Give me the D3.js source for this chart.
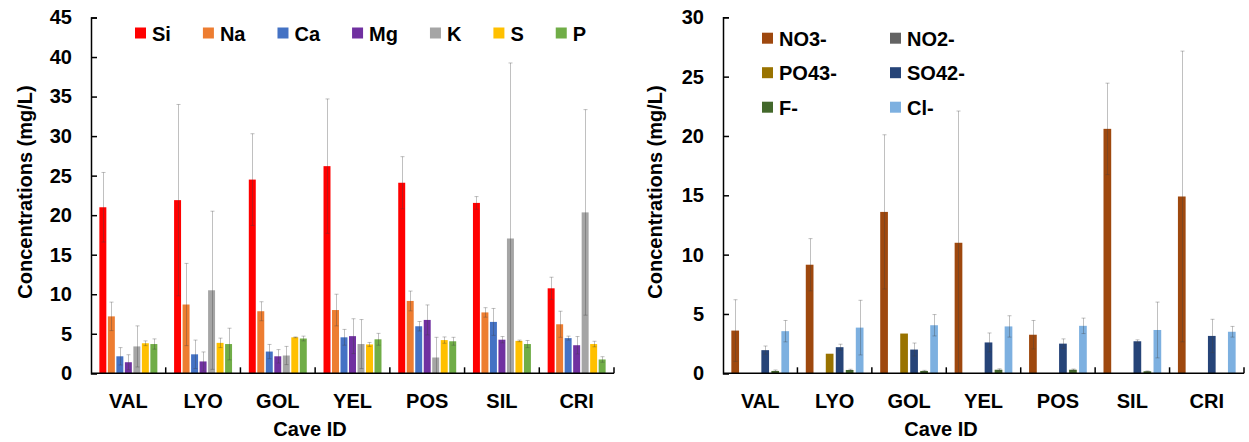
<!DOCTYPE html>
<html>
<head>
<meta charset="utf-8">
<script src="https://cdn.jsdelivr.net/npm/d3@7"></script>
<style>
  html, body { margin: 0; padding: 0; background: #fff; }
  svg { display: block; }
  text { font-family: "Liberation Sans", Arial, sans-serif; font-weight: bold; fill: #000; }
</style>
</head>
<body>
<svg id="chart" width="1249" height="442"></svg>
<script>
// Cave sites shared by both panels
const caves = ["VAL", "LYO", "GOL", "YEL", "POS", "SIL", "CRI"];

// Cations / elements (mg/L): mean and standard deviation per cave
const elementNames = ["Si", "Na", "Ca", "Mg", "K", "S", "P"];
const siMean = [21.0, 21.9, 24.5, 26.2, 24.1, 21.55, 10.75];
const siSD   = [4.4, 12.1, 5.8, 8.5, 3.3, 0.8, 1.4];
const naMean = [7.2, 8.7, 7.85, 8.0, 9.15, 7.7, 6.2];
const naSD   = [1.8, 5.2, 1.2, 2.0, 1.25, 0.6, 1.65];
const caMean = [2.15, 2.4, 2.75, 4.55, 5.95, 6.5, 4.45];
const caSD   = [1.1, 1.8, 0.9, 1.0, 0.6, 1.7, 0.25];
const mgMean = [1.4, 1.5, 2.15, 4.7, 6.75, 4.25, 3.55];
const mgSD   = [0.95, 1.2, 0.85, 2.2, 1.9, 0.4, 1.1];
const kMean  = [3.4, 10.5, 2.25, 3.7, 2.0, 17.05, 20.35];
const kSD    = [2.6, 10.0, 1.15, 3.1, 2.55, 22.2, 13.0];
const sMean  = [3.8, 3.85, 4.55, 3.65, 4.2, 4.1, 3.7];
const sSD    = [0.3, 0.6, 0.05, 0.25, 0.4, 0.1, 0.35];
const pMean  = [3.7, 3.7, 4.4, 4.3, 4.05, 3.7, 1.75];
const pSD    = [0.65, 2.0, 0.3, 0.75, 0.5, 0.45, 0.35];
const elementColors = ["#FF0000", "#ED7D31", "#4472C4", "#7030A0", "#A5A5A5", "#FFC000", "#70AD47"];
const elementTicks = [0, 5, 10, 15, 20, 25, 30, 35, 40, 45];

// Anions (mg/L): mean and standard deviation per cave
const anionNames = ["NO3-", "NO2-", "PO43-", "SO42-", "F-", "Cl-"];
const no3Mean = [3.6, 9.15, 13.6, 11.0, 3.25, 20.6, 14.9];
const no3SD   = [2.6, 2.2, 6.5, 11.1, 1.2, 3.85, 12.25];
const no2Mean = [0, 0, 0, 0, 0, 0, 0];
const no2SD   = [0, 0, 0, 0, 0, 0, 0];
const po4Mean = [0, 1.65, 3.35, 0, 0, 0, 0];
const po4SD   = [0, 0, 0, 0, 0, 0, 0];
const so4Mean = [1.95, 2.2, 2.0, 2.6, 2.5, 2.7, 3.15];
const so4SD   = [0.35, 0.25, 0.55, 0.8, 0.4, 0.12, 1.4];
const fMean   = [0.2, 0.28, 0.2, 0.3, 0.3, 0.17, 0];
const fSD     = [0.08, 0.06, 0.05, 0.08, 0.06, 0.03, 0];
const clMean  = [3.55, 3.85, 4.05, 3.95, 4.0, 3.65, 3.5];
const clSD    = [0.9, 2.3, 0.9, 0.9, 0.65, 2.35, 0.45];
const anionColors = ["#9E480E", "#636363", "#997300", "#264478", "#43682B", "#7DB0E0"];
const anionTicks = [0, 5, 10, 15, 20, 25, 30];

const FONT_SIZE = 20;
const svg = d3.select("#chart");

function drawPanel(cfg) {
  const g = svg.append("g");
  const x0 = d3.scaleBand().domain(caves).range([cfg.left, cfg.right]).paddingInner(0).paddingOuter(0);
  const x1 = d3.scaleBand().domain(cfg.series).range([0, x0.bandwidth()])
    .paddingInner(cfg.barPadInner).paddingOuter(cfg.barPadOuter);
  const y = d3.scaleLinear().domain([0, cfg.yMax]).range([cfg.bottom, cfg.top]);

  // rows of {cave, series, mean, sd}
  const rows = [];
  cfg.series.forEach((s, si) => {
    caves.forEach((c, ci) => {
      rows.push({ cave: c, series: s, idx: si, mean: cfg.means[si][ci], sd: cfg.sds[si][ci] });
    });
  });

  // bars
  g.append("g").selectAll("rect").data(rows.filter(d => d.mean > 0)).join("rect")
    .attr("x", d => x0(d.cave) + x1(d.series))
    .attr("y", d => y(d.mean))
    .attr("width", x1.bandwidth())
    .attr("height", d => y(0) - y(d.mean))
    .attr("fill", d => cfg.colors[d.idx]);

  // error bars (clipped at zero)
  const eb = g.append("g").attr("stroke", "#404040").attr("stroke-opacity", 0.33).attr("stroke-width", 1);
  rows.filter(d => d.mean > 0 && d.sd > 0).forEach(d => {
    const cx = Math.round(x0(d.cave) + x1(d.series) + x1.bandwidth() / 2) + 0.5;
    const lo = y(Math.max(0, d.mean - d.sd));
    const hi = y(d.mean + d.sd);
    eb.append("line").attr("x1", cx).attr("x2", cx).attr("y1", lo).attr("y2", hi);
    eb.append("line").attr("x1", cx - 2).attr("x2", cx + 2).attr("y1", hi).attr("y2", hi);
    if (d.mean - d.sd > 0) {
      eb.append("line").attr("x1", cx - 2).attr("x2", cx + 2).attr("y1", lo).attr("y2", lo);
    }
  });

  // y axis with inward ticks
  const yAxis = d3.axisLeft(y).tickValues(cfg.ticks).tickSize(-6).tickPadding(19).tickFormat(d3.format("d"));
  const ya = g.append("g").attr("transform", `translate(${cfg.left},0)`).call(yAxis);
  ya.select(".domain").attr("stroke", "#000").attr("stroke-width", 1.5);
  ya.selectAll(".tick line").attr("stroke", "#000").attr("stroke-width", 1.5);
  ya.selectAll(".tick text").attr("font-size", FONT_SIZE).attr("font-weight", "bold")
    .attr("font-family", "'Liberation Sans', Arial, sans-serif").attr("fill", "#000");

  // x axis: baseline, group dividers and cave labels
  g.append("line").attr("x1", cfg.left).attr("x2", cfg.right).attr("y1", cfg.bottom).attr("y2", cfg.bottom)
    .attr("stroke", "#000").attr("stroke-width", 1.5);
  caves.forEach((c, i) => {
    const bx = x0(c) + x0.bandwidth();
    g.append("line").attr("x1", bx).attr("x2", bx).attr("y1", cfg.bottom).attr("y2", cfg.bottom - 6)
      .attr("stroke", "#000").attr("stroke-width", 1.5);
  });
  g.append("g").selectAll("text").data(caves).join("text")
    .attr("x", d => x0(d) + x0.bandwidth() / 2)
    .attr("y", 407.5)
    .attr("text-anchor", "middle")
    .attr("font-size", FONT_SIZE)
    .text(d => d);

  // axis titles
  g.append("text").attr("x", cfg.xTitleX).attr("y", 436).attr("text-anchor", "middle")
    .attr("font-size", FONT_SIZE).text("Cave ID");
  g.append("text").attr("transform", `translate(${cfg.yTitleX},${cfg.yTitleY}) rotate(-90)`)
    .attr("text-anchor", "middle").attr("font-size", FONT_SIZE).text("Concentrations (mg/L)");

  cfg.legend(g);
}

// Left panel: elements, one legend row
drawPanel({
  left: 91, right: 614, top: 17.5, bottom: 373.3, yMax: 45,
  series: elementNames, colors: elementColors, ticks: elementTicks,
  means: [siMean, naMean, caMean, mgMean, kMean, sMean, pMean],
  sds: [siSD, naSD, caSD, mgSD, kSD, sSD, pSD],
  barPadInner: 0.18, barPadOuter: 0.985,
  xTitleX: 310, yTitleX: 32, yTitleY: 192,
  legend: g => {
    let lx = 135;
    elementNames.forEach((name, i) => {
      g.append("rect").attr("x", lx).attr("y", 27.5).attr("width", 11).attr("height", 11).attr("fill", elementColors[i]);
      const t = g.append("text").attr("x", lx + 17).attr("y", 40.5).attr("font-size", FONT_SIZE).text(name);
      lx += 11 + 6 + t.node().getComputedTextLength() + 32;
    });
  }
});

// Right panel: anions, legend in two columns
drawPanel({
  left: 723, right: 1244, top: 17.3, bottom: 373.3, yMax: 30,
  series: anionNames, colors: anionColors, ticks: anionTicks,
  means: [no3Mean, no2Mean, po4Mean, so4Mean, fMean, clMean],
  sds: [no3SD, no2SD, po4SD, so4SD, fSD, clSD],
  barPadInner: 0.23, barPadOuter: 0.835,
  xTitleX: 941, yTitleX: 662, yTitleY: 192,
  legend: g => {
    anionNames.forEach((name, i) => {
      const col = i % 2, row = Math.floor(i / 2);
      const lx = col === 0 ? 762 : 890;
      const ly = 32.7 + row * 34.5;
      g.append("rect").attr("x", lx).attr("y", ly).attr("width", 11).attr("height", 11).attr("fill", anionColors[i]);
      g.append("text").attr("x", lx + 17).attr("y", ly + 13).attr("font-size", FONT_SIZE).text(name);
    });
  }
});
</script>
</body>
</html>
